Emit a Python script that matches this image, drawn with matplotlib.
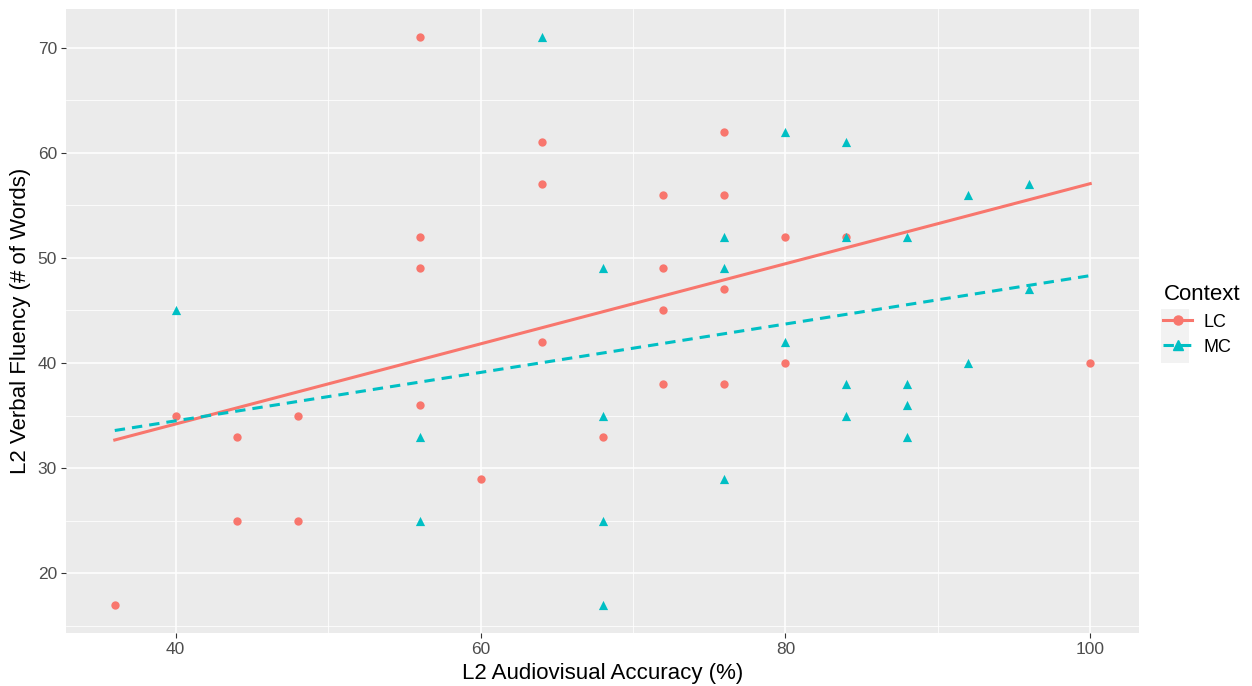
import numpy as np
import matplotlib
matplotlib.use("Agg")
import matplotlib.pyplot as plt
from matplotlib.lines import Line2D
from matplotlib.patches import Rectangle

plt.rcParams['font.family'] = ['Liberation Sans', 'DejaVu Sans']

# LC context
lc_x = [36, 40, 44, 44, 48, 48, 56, 56, 56, 56, 60, 64, 64, 64, 68, 72, 72, 72, 72,
        76, 76, 76, 76, 80, 80, 84, 100]
lc_y = [17, 35, 33, 25, 35, 25, 71, 52, 49, 36, 29, 61, 57, 42, 33, 56, 49, 45, 38,
        62, 56, 47, 38, 52, 40, 52, 40]
# MC context
mc_x = [40, 56, 56, 64, 68, 68, 68, 68, 76, 76, 76, 80, 80, 84, 84, 84, 84,
        88, 88, 88, 88, 92, 92, 96, 96]
mc_y = [45, 33, 25, 71, 49, 35, 25, 17, 52, 49, 29, 62, 42, 61, 52, 38, 35,
        52, 38, 36, 33, 56, 40, 57, 47]

groups = ["LC", "MC"]
colors = {"LC": "#F8766D", "MC": "#00BFC4"}
markers = {"LC": "o", "MC": "^"}
styles = {"LC": "-", "MC": (0, (3.4, 2.3))}

fig = plt.figure(figsize=(12.52, 6.86), dpi=100)
ax = fig.add_axes([66/1252, 1-633/686, (1139-66)/1252, (633-9)/686])
ax.set_facecolor("#EBEBEB")

allx = np.array(lc_x + mc_x, dtype=float)
xfit = np.linspace(allx.min(), allx.max(), 100)

data = {"LC": (lc_x, lc_y), "MC": (mc_x, mc_y)}
for g in groups:
    x, y = np.array(data[g][0], float), np.array(data[g][1], float)
    ax.scatter(x, y, s=36 if g == "LC" else 44, marker=markers[g], color=colors[g],
               linewidths=0, zorder=3)
    b, a = np.polyfit(x, y, 1)
    ax.plot(xfit, a + b * xfit, color=colors[g], lw=2.2, linestyle=styles[g], zorder=4)

ax.set_xlim(32.8, 103.2)
ax.set_ylim(14.3, 73.7)
ax.set_xticks([40, 60, 80, 100])
ax.set_yticks([20, 30, 40, 50, 60, 70])
ax.set_xticks([50, 70, 90], minor=True)
ax.set_yticks([15, 25, 35, 45, 55, 65], minor=True)
ax.grid(which="major", color="white", lw=1.1, zorder=0)
ax.grid(which="minor", color="white", lw=0.55, zorder=0)
ax.set_axisbelow(True)
for s in ax.spines.values():
    s.set_visible(False)
ax.tick_params(which="major", length=3.5, width=0.8, color="#333333",
               labelsize=12.5, labelcolor="#4D4D4D", pad=3)
ax.tick_params(which="minor", length=0)
ax.set_xlabel("L2 Audiovisual Accuracy (%)", fontsize=16, color="black", labelpad=4)
ax.set_ylabel("L2 Verbal Fluency (# of Words)", fontsize=16, color="black", labelpad=5)

# legend key background
fig.patches.append(Rectangle((1161/1252, 1-363/686), 28/1252, 54/686,
                             transform=fig.transFigure, facecolor="#F2F2F2",
                             edgecolor="none", zorder=0))
handles = [Line2D([0], [0], color=colors[g], marker=markers[g], linestyle=styles[g],
                  lw=2.2, markersize=6.5 if g == "LC" else 7) for g in groups]
leg = fig.legend(handles, groups, title="Context", loc="upper left",
                 bbox_to_anchor=(1149/1252, 1-270/686), frameon=False,
                 fontsize=13, title_fontsize=16, handlelength=1.6,
                 handletextpad=0.6, labelspacing=0.45, borderpad=0.3)
leg._legend_box.align = "left"

fig.savefig("out.png", dpi=100)
